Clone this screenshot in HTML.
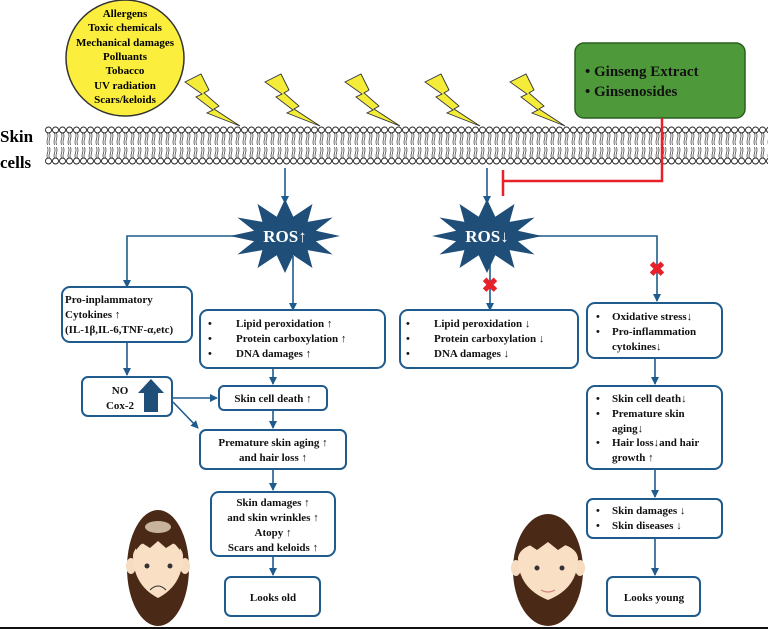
<!DOCTYPE html>
<html><head><meta charset="utf-8"><style>
html,body{margin:0;padding:0;background:#fff;}
svg{display:block;font-family:"Liberation Serif",serif;font-weight:bold;}
</style></head><body>
<svg width="768" height="629" viewBox="0 0 768 629" xmlns="http://www.w3.org/2000/svg">
<defs>
<pattern id="mem" x="45" y="125" width="7" height="42" patternUnits="userSpaceOnUse">
<circle cx="3.5" cy="5" r="3" fill="#fff" stroke="#222" stroke-width="0.9"/>
<circle cx="3.5" cy="36" r="3" fill="#fff" stroke="#222" stroke-width="0.9"/>
<path d="M2.5 8 q1 3 0 6 q-1 3 0 6 M4.5 8 q1 3 0 6 q-1 3 0 6 M2.5 22 q1 3 0 6 q-1 3 0 5 M4.5 22 q1 3 0 6 q-1 3 0 5" fill="none" stroke="#333" stroke-width="0.7"/>
</pattern>
<marker id="ar" markerWidth="8" markerHeight="8" refX="7" refY="4" orient="auto" markerUnits="userSpaceOnUse"><path d="M0 0 L8 4 L0 8 z" fill="#1f5b8c"/></marker>
<g id="bolt"><polygon points="0,12 16,4 24,20 19,23 34,36 29,39 55,56 22,43 28,40 11,27 17,24" fill="#f5ec3a" stroke="#333" stroke-width="0.9"/></g>
<polygon id="star" points="55,0 30.9,5.2 47.6,18.5 22.6,14.1 27.5,32 8.3,19.3 0,37 -8.3,19.3 -27.5,32 -22.6,14.1 -47.6,18.5 -30.9,5.2 -55,0 -30.9,-5.2 -47.6,-18.5 -22.6,-14.1 -27.5,-32 -8.3,-19.3 0,-37 8.3,-19.3 27.5,-32 22.6,-14.1 47.6,-18.5 30.9,-5.2" fill="#1f4e79"/>
</defs>

<ellipse cx="125" cy="58" rx="59" ry="58" fill="#fbee3c" stroke="#333" stroke-width="1.5"/>
<g font-size="11" text-anchor="middle" fill="#000">
<text x="125" y="17">Allergens</text>
<text x="125" y="31">Toxic chemicals</text>
<text x="125" y="46">Mechanical damages</text>
<text x="125" y="60">Polluants</text>
<text x="125" y="74">Tobacco</text>
<text x="125" y="89">UV radiation</text>
<text x="125" y="103">Scars/keloids</text>
</g>

<use href="#bolt" x="185" y="70"/>
<use href="#bolt" x="265" y="70"/>
<use href="#bolt" x="345" y="70"/>
<use href="#bolt" x="425" y="70"/>
<use href="#bolt" x="510" y="70"/>

<rect x="575" y="43" width="170" height="75" rx="9" fill="#4e9a3a" stroke="#2c5e22" stroke-width="1.5"/>
<g font-size="15" fill="#111">
<text x="585" y="76">•  Ginseng Extract</text>
<text x="585" y="96">•  Ginsenosides</text>
</g>

<rect x="45" y="125" width="723" height="42" fill="url(#mem)"/>
<text x="0" y="142" font-size="17">Skin</text>
<text x="0" y="168" font-size="17">cells</text>

<path d="M662 118 V181 H503" fill="none" stroke="#e8202a" stroke-width="2.5"/>
<path d="M503 170 V196" stroke="#e8202a" stroke-width="2.5"/>

<g stroke="#1f5b8c" stroke-width="1.6" fill="none">
<path d="M285 168 V203" marker-end="url(#ar)"/>
<path d="M487 168 V203" marker-end="url(#ar)"/>
<path d="M240 236 H127 V287" marker-end="url(#ar)"/>
<path d="M293 256 V310" marker-end="url(#ar)"/>
<path d="M490 256 V310" marker-end="url(#ar)"/>
<path d="M530 236 H657 V301" marker-end="url(#ar)"/>
<path d="M127 342 V375" marker-end="url(#ar)"/>
<path d="M173 398 H217" marker-end="url(#ar)"/>
<path d="M173 402 L198 428" marker-end="url(#ar)"/>
<path d="M273 368 V384" marker-end="url(#ar)"/>
<path d="M273 410 V428" marker-end="url(#ar)"/>
<path d="M273 469 V490" marker-end="url(#ar)"/>
<path d="M273 556 V575" marker-end="url(#ar)"/>
<path d="M655 358 V384" marker-end="url(#ar)"/>
<path d="M655 469 V497" marker-end="url(#ar)"/>
<path d="M655 538 V575" marker-end="url(#ar)"/>
</g>

<use href="#star" x="285" y="236"/>
<use href="#star" x="487" y="236"/>
<text x="285" y="242" font-size="17" fill="#fff" text-anchor="middle">ROS↑</text>
<text x="487" y="242" font-size="17" fill="#fff" text-anchor="middle">ROS↓</text>

<text x="490" y="292" font-size="20" fill="#e8202a" text-anchor="middle">✖</text>
<text x="657" y="276" font-size="20" fill="#e8202a" text-anchor="middle">✖</text>

<g fill="#fff" stroke="#1f5b8c" stroke-width="2">
<rect x="62" y="287" width="130" height="55" rx="8"/>
<rect x="200" y="310" width="185" height="58" rx="8"/>
<rect x="400" y="310" width="178" height="58" rx="8"/>
<rect x="587" y="303" width="135" height="55" rx="8"/>
<rect x="82" y="377" width="90" height="39" rx="6"/>
<rect x="219" y="386" width="108" height="24" rx="5"/>
<rect x="200" y="430" width="146" height="39" rx="6"/>
<rect x="211" y="492" width="124" height="64" rx="8"/>
<rect x="225" y="577" width="95" height="39" rx="6"/>
<rect x="587" y="386" width="135" height="83" rx="8"/>
<rect x="587" y="499" width="135" height="39" rx="6"/>
<rect x="607" y="577" width="93" height="39" rx="6"/>
</g>
<polygon points="151,379 164,393 158,393 158,412 144,412 144,393 138,393" fill="#1f4e79"/>

<g font-size="11" fill="#111">
<text x="65" y="303">Pro-inplammatory</text>
<text x="65" y="318">Cytokines ↑</text>
<text x="65" y="333">(IL-1β,IL-6,TNF-α,etc)</text>

<text x="208" y="327">•</text><text x="236" y="327">Lipid peroxidation ↑</text>
<text x="208" y="342">•</text><text x="236" y="342">Protein carboxylation ↑</text>
<text x="208" y="357">•</text><text x="236" y="357">DNA damages ↑</text>

<text x="406" y="327">•</text><text x="434" y="327">Lipid peroxidation ↓</text>
<text x="406" y="342">•</text><text x="434" y="342">Protein carboxylation ↓</text>
<text x="406" y="357">•</text><text x="434" y="357">DNA damages ↓</text>

<text x="596" y="320">•</text><text x="612" y="320">Oxidative stress↓</text>
<text x="596" y="335">•</text><text x="612" y="335">Pro-inflammation</text>
<text x="612" y="350">cytokines↓</text>

<text x="120" y="394" text-anchor="middle">NO</text>
<text x="120" y="409" text-anchor="middle">Cox-2</text>

<text x="273" y="402" text-anchor="middle">Skin cell death ↑</text>
<text x="273" y="446" text-anchor="middle">Premature skin aging ↑</text>
<text x="273" y="461" text-anchor="middle">and hair loss ↑</text>

<text x="273" y="506" text-anchor="middle">Skin damages ↑</text>
<text x="273" y="521" text-anchor="middle">and skin wrinkles ↑</text>
<text x="273" y="536" text-anchor="middle">Atopy ↑</text>
<text x="273" y="551" text-anchor="middle">Scars and keloids ↑</text>

<text x="273" y="601" text-anchor="middle">Looks old</text>

<text x="596" y="402">•</text><text x="612" y="402">Skin cell death↓</text>
<text x="596" y="417">•</text><text x="612" y="417">Premature skin</text>
<text x="612" y="432">aging↓</text>
<text x="596" y="446">•</text><text x="612" y="446">Hair loss↓and hair</text>
<text x="612" y="461">growth ↑</text>

<text x="596" y="514">•</text><text x="612" y="514">Skin damages ↓</text>
<text x="596" y="529">•</text><text x="612" y="529">Skin diseases ↓</text>

<text x="654" y="601" text-anchor="middle">Looks young</text>
</g>

<ellipse cx="158" cy="568" rx="31" ry="58" fill="#4a2a17"/>
<ellipse cx="158" cy="527" rx="13" ry="6" fill="#c8b49c"/>
<ellipse cx="131" cy="566" rx="5" ry="8" fill="#f6dcc0"/>
<ellipse cx="185" cy="566" rx="5" ry="8" fill="#f6dcc0"/>
<path d="M133 555 Q135 542 158 540 Q181 542 183 555 Q183 585 158 598 Q133 585 133 555 Z" fill="#f9e0c4"/>
<path d="M136 550 L142 543 L150 548 L158 541 L166 548 L174 543 L180 550 L180 540 L136 540 Z" fill="#4a2a17"/>
<circle cx="147" cy="566" r="2.5" fill="#333"/><circle cx="170" cy="566" r="2.5" fill="#333"/>
<path d="M150 590 Q158 582 166 590" fill="none" stroke="#333" stroke-width="1"/>

<ellipse cx="548" cy="570" rx="35" ry="56" fill="#4a2a17"/>
<ellipse cx="516" cy="568" rx="5" ry="8" fill="#f6dcc0"/>
<ellipse cx="580" cy="568" rx="5" ry="8" fill="#f6dcc0"/>
<path d="M518 558 Q520 544 548 542 Q576 544 578 558 Q578 588 548 600 Q518 588 518 558 Z" fill="#f9e0c4"/>
<path d="M520 552 L528 544 L537 550 L548 542 L558 550 L567 544 L576 552 L576 540 L520 540 Z" fill="#4a2a17"/>
<circle cx="537" cy="568" r="2.5" fill="#333"/><circle cx="562" cy="568" r="2.5" fill="#333"/>
<path d="M541 590 Q548 594 555 590" fill="none" stroke="#d08080" stroke-width="1.2"/>

<rect x="0" y="627" width="768" height="2" fill="#111"/>
</svg>
</body></html>
